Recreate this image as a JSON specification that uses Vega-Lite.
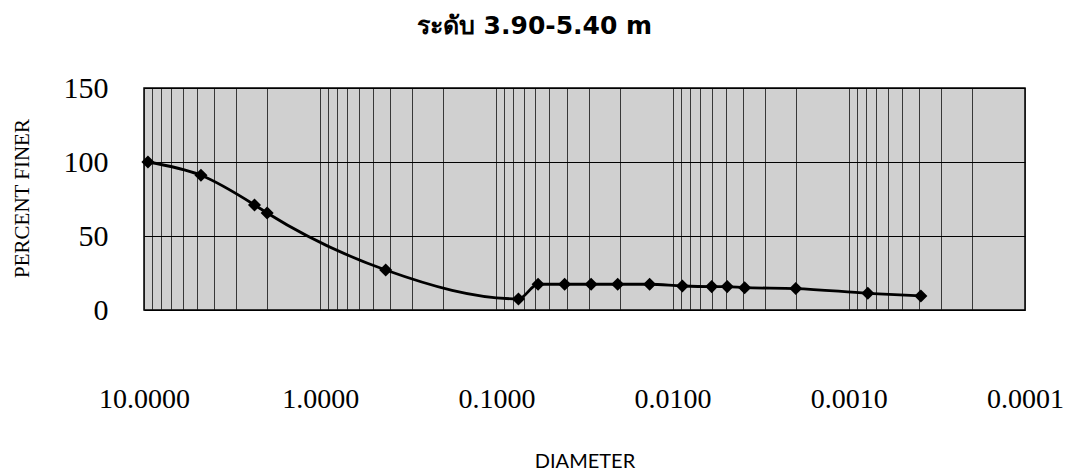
{
  "$schema": "https://vega.github.io/schema/vega-lite/v6.json",
  "width": 881,
  "height": 222,
  "autosize": {"type": "none"},
  "padding": {"left": 144, "top": 88, "right": 46, "bottom": 165},
  "background": "white",
  "title": {
    "text": "ระดับ 3.90-5.40 m",
    "font": "DejaVu Sans",
    "fontSize": 25,
    "fontWeight": "bold",
    "color": "black",
    "anchor": "middle",
    "baseline": "alphabetic",
    "offset": 14,
    "dx": -50
  },
  "config": {
    "view": {"fill": "#d0d0d0", "stroke": "black", "strokeWidth": 1.5}
  },
  "data": {
    "values": [
      {"d": 9.5, "p": 100},
      {"d": 4.75, "p": 91},
      {"d": 2.36, "p": 71},
      {"d": 2.0, "p": 65.5},
      {"d": 0.425, "p": 27},
      {"d": 0.075, "p": 7.5},
      {"d": 0.058, "p": 17.4},
      {"d": 0.041, "p": 17.4},
      {"d": 0.029, "p": 17.4},
      {"d": 0.0205, "p": 17.4},
      {"d": 0.0135, "p": 17.4},
      {"d": 0.0088, "p": 16.2},
      {"d": 0.006, "p": 15.8},
      {"d": 0.0049, "p": 15.8},
      {"d": 0.0039, "p": 15.1},
      {"d": 0.002, "p": 14.5},
      {"d": 0.00078, "p": 11.3},
      {"d": 0.00039, "p": 9.5}
    ]
  },
  "encoding": {
    "x": {
      "field": "d",
      "type": "quantitative",
      "scale": {"type": "log", "domain": [0.0001, 10], "reverse": true, "nice": false},
      "axis": {
        "title": "DIAMETER",
        "titleFont": "Lato",
        "titleFontSize": 20,
        "titleFontWeight": "normal",
        "titleColor": "black",
        "titleBaseline": "alphabetic",
        "titleY": 157,
        "values": [10, 9, 8, 7, 6, 5, 4, 3, 2, 1, 0.9, 0.8, 0.7, 0.6, 0.5, 0.4, 0.3, 0.2, 0.1, 0.09, 0.08, 0.07, 0.06, 0.05, 0.04, 0.03, 0.02, 0.01, 0.009, 0.008, 0.007, 0.006, 0.005, 0.004, 0.003, 0.002, 0.001, 0.0009, 0.0008, 0.0007, 0.0006, 0.0005, 0.0004, 0.0003, 0.0002, 0.0001],
        "labelExpr": "abs(log(datum.value)/LN10 - round(log(datum.value)/LN10)) < 1e-6 ? format(datum.value, '.4f') : ''",
        "labelFont": "Liberation Serif",
        "labelFontSize": 28,
        "labelColor": "black",
        "labelBaseline": "alphabetic",
        "labelPadding": 97,
        "labelFlush": false,
        "labelOverlap": false,
        "labelBound": false,
        "ticks": false,
        "domain": false,
        "grid": true,
        "gridColor": "#111111",
        "gridOpacity": 0.8,
        "gridWidth": 1
      }
    },
    "y": {
      "field": "p",
      "type": "quantitative",
      "scale": {"domain": [0, 150], "nice": false},
      "axis": {
        "title": "PERCENT FINER",
        "titleFont": "Liberation Serif",
        "titleFontSize": 21,
        "titleFontWeight": "normal",
        "titleColor": "black",
        "titleBaseline": "alphabetic",
        "titleAlign": "center",
        "titleAngle": -90,
        "titleX": -116,
        "titleY": 110,
        "values": [0, 50, 100, 150],
        "labelFont": "Liberation Serif",
        "labelFontSize": 30,
        "labelColor": "black",
        "labelPadding": 36,
        "labelFlush": false,
        "labelBound": false,
        "ticks": false,
        "domain": false,
        "grid": true,
        "gridColor": "black",
        "gridWidth": 1
      }
    }
  },
  "layer": [
    {
      "mark": {"type": "line", "color": "black", "strokeWidth": 2.8, "interpolate": "monotone"},
      "encoding": {"order": {"field": "d", "sort": "descending"}}
    },
    {
      "mark": {"type": "point", "shape": "diamond", "filled": true, "color": "black", "size": 170, "opacity": 1}
    }
  ]
}
